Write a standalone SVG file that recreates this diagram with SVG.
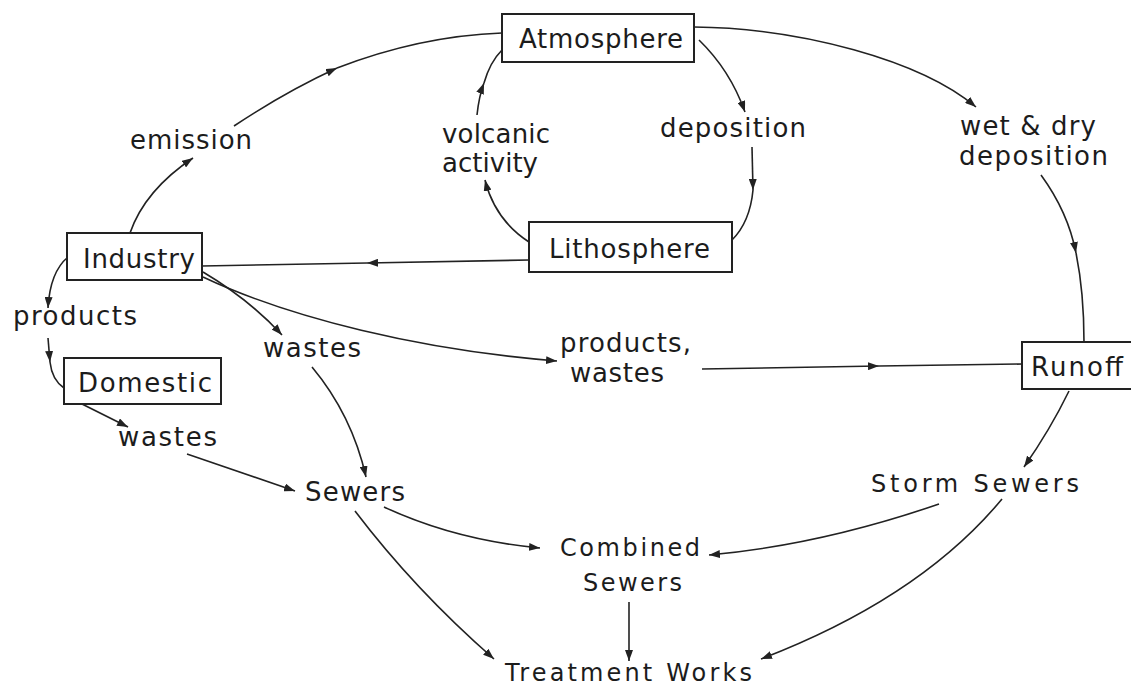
<svg xmlns="http://www.w3.org/2000/svg" width="1131" height="687" viewBox="0 0 1131 687">
<defs>
<style>
.box{fill:#fff;stroke:#222;stroke-width:2}
.t{font-family:"DejaVu Sans","Liberation Sans",Arial,sans-serif;font-size:26px;fill:#1c1c1c}
.ts{font-family:"DejaVu Sans","Liberation Sans",Arial,sans-serif;font-size:24px;fill:#1c1c1c}
.c{fill:none;stroke:#222;stroke-width:1.6}
.a{marker-end:url(#ah)}
</style>
<marker id="ah" viewBox="0 0 11 8" refX="11" refY="4" markerWidth="11" markerHeight="8" markerUnits="userSpaceOnUse" orient="auto">
<path d="M0,0 L11,4 L0,8 z" fill="#222"/>
</marker>
</defs>
<rect width="1131" height="687" fill="#fff"/>
<g id="connectors">
<path class="c a" d="M130,233 Q145,190 193,158"/>
<path class="c a" d="M234,126 Q285,92 337,68"/>
<path class="c" d="M337,68 Q420,36 502,33"/>
<path class="c a" d="M68,257 Q50,272 48,308"/>
<path class="c a" d="M48,338 L50,362"/>
<path class="c" d="M50,362 Q52,380 64,388"/>
<path class="c a" d="M82,404 L128,427"/>
<path class="c a" d="M187,454 Q240,472 295,491"/>
<path class="c a" d="M203,272 Q250,300 282,335"/>
<path class="c a" d="M312,367 Q352,415 366,477"/>
<path class="c a" d="M203,277 C290,318 420,350 557,361"/>
<path class="c a" d="M702,369 L879,366"/>
<path class="c" d="M879,366 L1022,364"/>
<path class="c a" d="M529,260 L367,263"/>
<path class="c" d="M367,263 L202,266"/>
<path class="c a" d="M529,242 Q495,220 485,180"/>
<path class="c a" d="M477,115 Q479,96 484,83"/>
<path class="c" d="M484,83 Q490,62 502,50"/>
<path class="c a" d="M699,40 Q730,70 745,112"/>
<path class="c a" d="M752,147 L753,190"/>
<path class="c" d="M753,190 Q750,222 732,240"/>
<path class="c a" d="M694,27 C800,28 920,60 976,107"/>
<path class="c a" d="M1041,175 Q1068,212 1076,253"/>
<path class="c" d="M1076,253 Q1084,292 1084,342"/>
<path class="c a" d="M1069,391 Q1050,430 1024,467"/>
<path class="c a" d="M939,504 Q820,545 709,555"/>
<path class="c a" d="M1002,499 Q920,598 761,659"/>
<path class="c a" d="M384,507 Q455,540 540,548"/>
<path class="c a" d="M355,511 Q415,590 494,659"/>
<path class="c a" d="M629,602 L629,661"/>
</g>
<g id="atmosphere">
<rect class="box" x="502" y="14" width="192" height="48"/>
<text class="t" x="519" y="48" textLength="164" lengthAdjust="spacing">Atmosphere</text>
</g>
<g id="lithosphere">
<rect class="box" x="529" y="222" width="203" height="50"/>
<text class="t" x="549" y="258" textLength="161" lengthAdjust="spacing">Lithosphere</text>
</g>
<g id="industry">
<rect class="box" x="67" y="233" width="135" height="47"/>
<text class="t" x="83" y="268" textLength="112" lengthAdjust="spacing">Industry</text>
</g>
<g id="domestic">
<rect class="box" x="64" y="358" width="157" height="46"/>
<text class="t" x="78" y="392" textLength="134" lengthAdjust="spacing">Domestic</text>
</g>
<g id="runoff">
<rect class="box" x="1022" y="342" width="120" height="47"/>
<text class="t" x="1031" y="376" textLength="92" lengthAdjust="spacing">Runoff</text>
</g>
<g id="emission"><text class="t" x="130" y="149" textLength="122" lengthAdjust="spacing">emission</text></g>
<g id="volcanic-activity">
<text class="t" x="442" y="143" textLength="108" lengthAdjust="spacing">volcanic</text>
<text class="t" x="442" y="172" textLength="96" lengthAdjust="spacing">activity</text>
</g>
<g id="deposition"><text class="t" x="660" y="137" textLength="146" lengthAdjust="spacing">deposition</text></g>
<g id="wet-dry-deposition">
<text class="t" x="960" y="135" textLength="136" lengthAdjust="spacing">wet &amp; dry</text>
<text class="t" x="959" y="165" textLength="149" lengthAdjust="spacing">deposition</text>
</g>
<g id="products"><text class="t" x="13" y="325" textLength="124" lengthAdjust="spacing">products</text></g>
<g id="wastes-industry"><text class="t" x="263" y="357" textLength="98" lengthAdjust="spacing">wastes</text></g>
<g id="products-wastes">
<text class="t" x="560" y="352" textLength="131" lengthAdjust="spacing">products,</text>
<text class="t" x="570" y="382" textLength="94" lengthAdjust="spacing">wastes</text>
</g>
<g id="wastes-domestic"><text class="t" x="118" y="446" textLength="99" lengthAdjust="spacing">wastes</text></g>
<g id="sewers"><text class="t" x="305" y="501" textLength="100" lengthAdjust="spacing">Sewers</text></g>
<g id="storm-sewers"><text class="ts" x="871" y="492" textLength="208" lengthAdjust="spacing">Storm Sewers</text></g>
<g id="combined-sewers">
<text class="ts" x="560" y="556" textLength="140" lengthAdjust="spacing">Combined</text>
<text class="ts" x="583" y="591" textLength="99" lengthAdjust="spacing">Sewers</text>
</g>
<g id="treatment-works"><text class="ts" x="505" y="681" textLength="247" lengthAdjust="spacing">Treatment Works</text></g>
</svg>
